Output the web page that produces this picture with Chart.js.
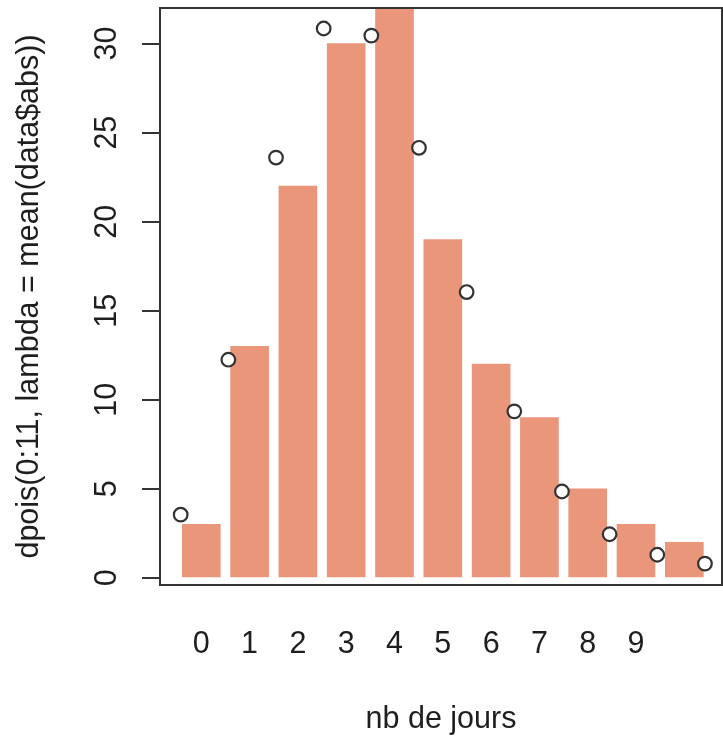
<!DOCTYPE html>
<html>
<head>
<meta charset="utf-8">
<script src="https://cdn.jsdelivr.net/npm/chart.js@4/dist/chart.umd.min.js"></script>
<style>
  html, body { margin: 0; padding: 0; background: #fff; overflow: hidden; }
</style>
</head>
<body>
<canvas id="chart" width="723" height="738"></canvas>
<script>
// categories (days) and the observed counts drawn as bars
const dayLabels = ['0', '1', '2', '3', '4', '5', '6', '7', '8', '9', ''];
const observedCounts = [3, 13, 22, 30, 33, 19, 12, 9, 5, 3, 2];
// poisson curve, drawn as open circles at 0:11
const poissonX = [0, 1, 2, 3, 4, 5, 6, 7, 8, 9, 10, 11];
const poissonValues = [3.55, 12.25, 23.6, 30.85, 30.45, 24.15, 16.05, 9.35, 4.85, 2.45, 1.3, 0.8];
const yTickValues = [0, 5, 10, 15, 20, 25, 30];

const FONT = "'Liberation Sans', Arial, sans-serif";
const INK = '#1e1e1e';
const TXT = 30.5;

// R style frame + vertical tick labels on the y axis
const rFrame = {
  id: 'rFrame',
  afterDraw(chart) {
    const { ctx, chartArea: a, scales } = chart;
    ctx.save();
    ctx.strokeStyle = '#333';
    ctx.lineWidth = 2;
    ctx.strokeRect(a.left, a.top, a.right - a.left, a.bottom - a.top);

    ctx.fillStyle = INK;
    ctx.font = TXT + 'px ' + FONT;
    ctx.textAlign = 'center';
    ctx.textBaseline = 'alphabetic';
    scales.y.ticks.forEach(t => {
      ctx.save();
      ctx.translate(116, scales.y.getPixelForValue(t.value));
      ctx.rotate(-Math.PI / 2);
      ctx.fillText(String(t.value), 0, 0);
      ctx.restore();
    });
    ctx.restore();
  }
};

new Chart(document.getElementById('chart'), {
  data: {
    datasets: [
      {
        type: 'bar',
        data: observedCounts.map((v, i) => ({ x: i, y: v })),
        xAxisID: 'xb',
        backgroundColor: '#E9967A',
        grouped: false,
        barThickness: 38,
        maxBarThickness: 38,
        borderWidth: 0,
        order: 2
      },
      {
        type: 'scatter',
        data: poissonValues.map((v, i) => ({ x: poissonX[i], y: v })),
        xAxisID: 'xp',
        pointStyle: 'circle',
        pointRadius: 6.8,
        pointBorderWidth: 2.2,
        pointBorderColor: '#333',
        pointBackgroundColor: '#fff',
        clip: false,
        order: 1
      }
    ]
  },
  options: {
    responsive: false,
    animation: false,
    events: [],
    layout: { autoPadding: false, padding: { top: 8, right: 1, left: 0, bottom: 0 } },
    plugins: { legend: { display: false }, tooltip: { enabled: false } },
    scales: {
      xb: {
        type: 'linear',
        position: 'bottom',
        offset: false,
        min: -0.855,
        max: 10.78,
        grid: { display: false, offset: false },
        border: { display: false },
        afterBuildTicks: s => { s.ticks = dayLabels.map((l, i) => ({ value: i })); },
        afterFit: s => { s.height = 153; },
        ticks: {
          autoSkip: false,
          maxRotation: 0,
          padding: 33,
          color: INK,
          font: { family: FONT, size: TXT },
          callback: (v, i) => dayLabels[i]
        },
        title: {
          display: true,
          text: 'nb de jours',
          color: INK,
          font: { family: FONT, size: TXT, lineHeight: 1 },
          padding: { top: 0, bottom: 3 }
        }
      },
      xp: {
        type: 'linear',
        display: false,
        offset: false,
        min: -0.434,
        max: 11.358
      },
      y: {
        min: -0.4,
        max: 32,
        afterBuildTicks: s => { s.ticks = yTickValues.map(v => ({ value: v })); },
        afterFit: s => { s.width = 160; },
        ticks: { display: false },
        grid: {
          drawOnChartArea: false,
          drawTicks: true,
          tickLength: 18,
          color: '#333',
          lineWidth: 2
        },
        border: { display: false },
        title: {
          display: true,
          text: 'dpois(0:11, lambda = mean(data$abs))',
          color: INK,
          font: { family: FONT, size: TXT, lineHeight: 1 },
          padding: { top: 14, bottom: 0 }
        }
      }
    }
  },
  plugins: [rFrame]
});
</script>
</body>
</html>
